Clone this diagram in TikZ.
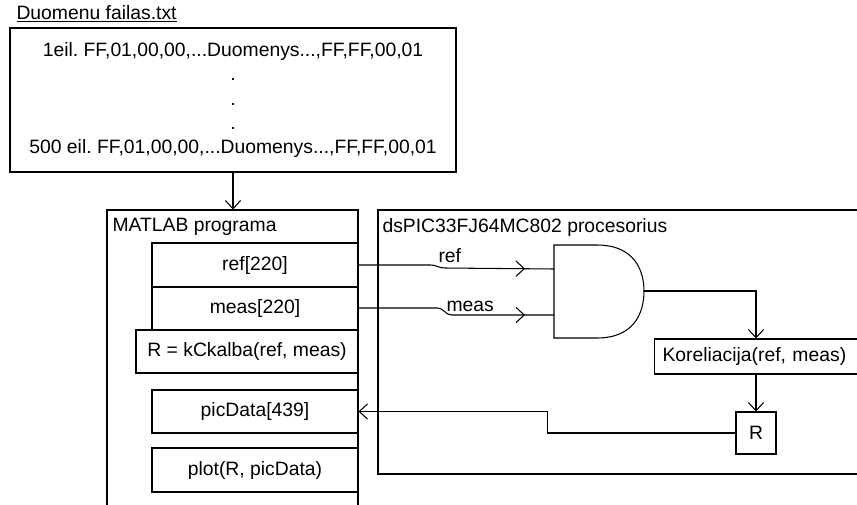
\documentclass[tikz,border=0pt]{standalone}
\usepackage{fontspec}
\setmainfont{Liberation Sans}
\usetikzlibrary{arrows.meta,decorations.markings}
\frenchspacing

\tikzset{
  box/.style={draw,inner sep=0pt,font=\fontsize{16.5}{19}\selectfont},
  frame/.style={draw,inner sep=0pt},
  lbl/.style={inner sep=0pt,font=\fontsize{16.5}{19}\selectfont},
  midarrow/.style={postaction={decorate},
    decoration={markings,mark=at position -0.87cm with {\arrow{>}}}}
}

\begin{document}
\begin{tikzpicture}[x=0.03cm,y=-0.03cm,line width=0.9pt,
  >={Straight Barb[length=7pt,width=13pt]}]
  \useasboundingbox (0,0) rectangle (857,505);
  \clip (0,0) rectangle (857,505);

  % data file
  \node[lbl,anchor=base west] (title) at (16,19) {\underline{Duomenu failas.txt}};
  \node[box,minimum width=13.38cm,minimum height=4.32cm,align=center,
    font=\fontsize{16.5}{20.6}\selectfont] (file) at (233,100)
    {1eil. FF,01,00,00,...Duomenys...,FF,FF,00,01\\ .\\ .\\ .\\
     500 eil. FF,01,00,00,...Duomenys...,FF,FF,00,01};

  % MATLAB side
  \node[frame,minimum width=7.53cm,minimum height=9.9cm] (matlab) at (232.5,375) {};
  \node[lbl,anchor=west] (matlabname) at (112,227) {MATLAB programa};
  \node[box,minimum width=6.18cm,minimum height=1.32cm] (ref) at (255,265) {ref[220]};
  \node[box,minimum width=6.18cm,minimum height=1.29cm] (meas) at (255,308.5) {meas[220]};
  \node[box,minimum width=6.66cm,minimum height=1.29cm] (kck) at (247,351.5) {R = kCkalba(ref, meas)};
  \node[box,minimum width=6.18cm,minimum height=1.29cm] (pic) at (255,411.5) {picData[439]};
  \node[box,minimum width=6.18cm,minimum height=1.32cm] (plot) at (255,470) {plot(R, picData)};

  % processor side
  \node[frame,minimum width=17.16cm,minimum height=7.92cm] (dspic) at (664,342) {};
  \node[lbl,anchor=west] (dspicname) at (382,227) {dsPIC33FJ64MC802 procesorius};
  \draw (554,245) -- (597,245) .. controls (634,245) and (644,270) .. (644,291)
    .. controls (644,313) and (634,338) .. (597,338) -- (554,338) -- cycle;
  \coordinate (g1) at (554,269);
  \coordinate (g2) at (554,315);
  \coordinate (gout) at (644,291);
  \node[box,anchor=west,minimum height=1.05cm,inner xsep=0.24cm,text width=6.9cm,
    align=left] (kor) at (654,356.5) {Koreliacija(ref, meas)};
  \node[box,minimum width=1.2cm,minimum height=1.26cm] (R) at (756,433) {R};

  % connectors
  \draw[->] (file.south) -- (file.south |- matlab.north);
  \draw[midarrow] (ref.east) -- ++(72,0) to[out=0,in=180] ++(14,3) -- (g1);
  \node[lbl,anchor=south west] (reflbl) at (438,263) {ref};
  \draw[midarrow] (meas.east |- 0,308) -- ++(79,0) to[out=0,in=180] ++(14,7) -- (g2);
  \node[lbl,anchor=south west] (measlbl) at (446,312) {meas};
  \draw[->] (gout) -| (R.north |- kor.north);
  \draw[->] (R.north |- kor.south) -- (R.north);
  \draw[->] (R.west) -- ++(-188,0) |- (pic.east);
\end{tikzpicture}
\end{document}
